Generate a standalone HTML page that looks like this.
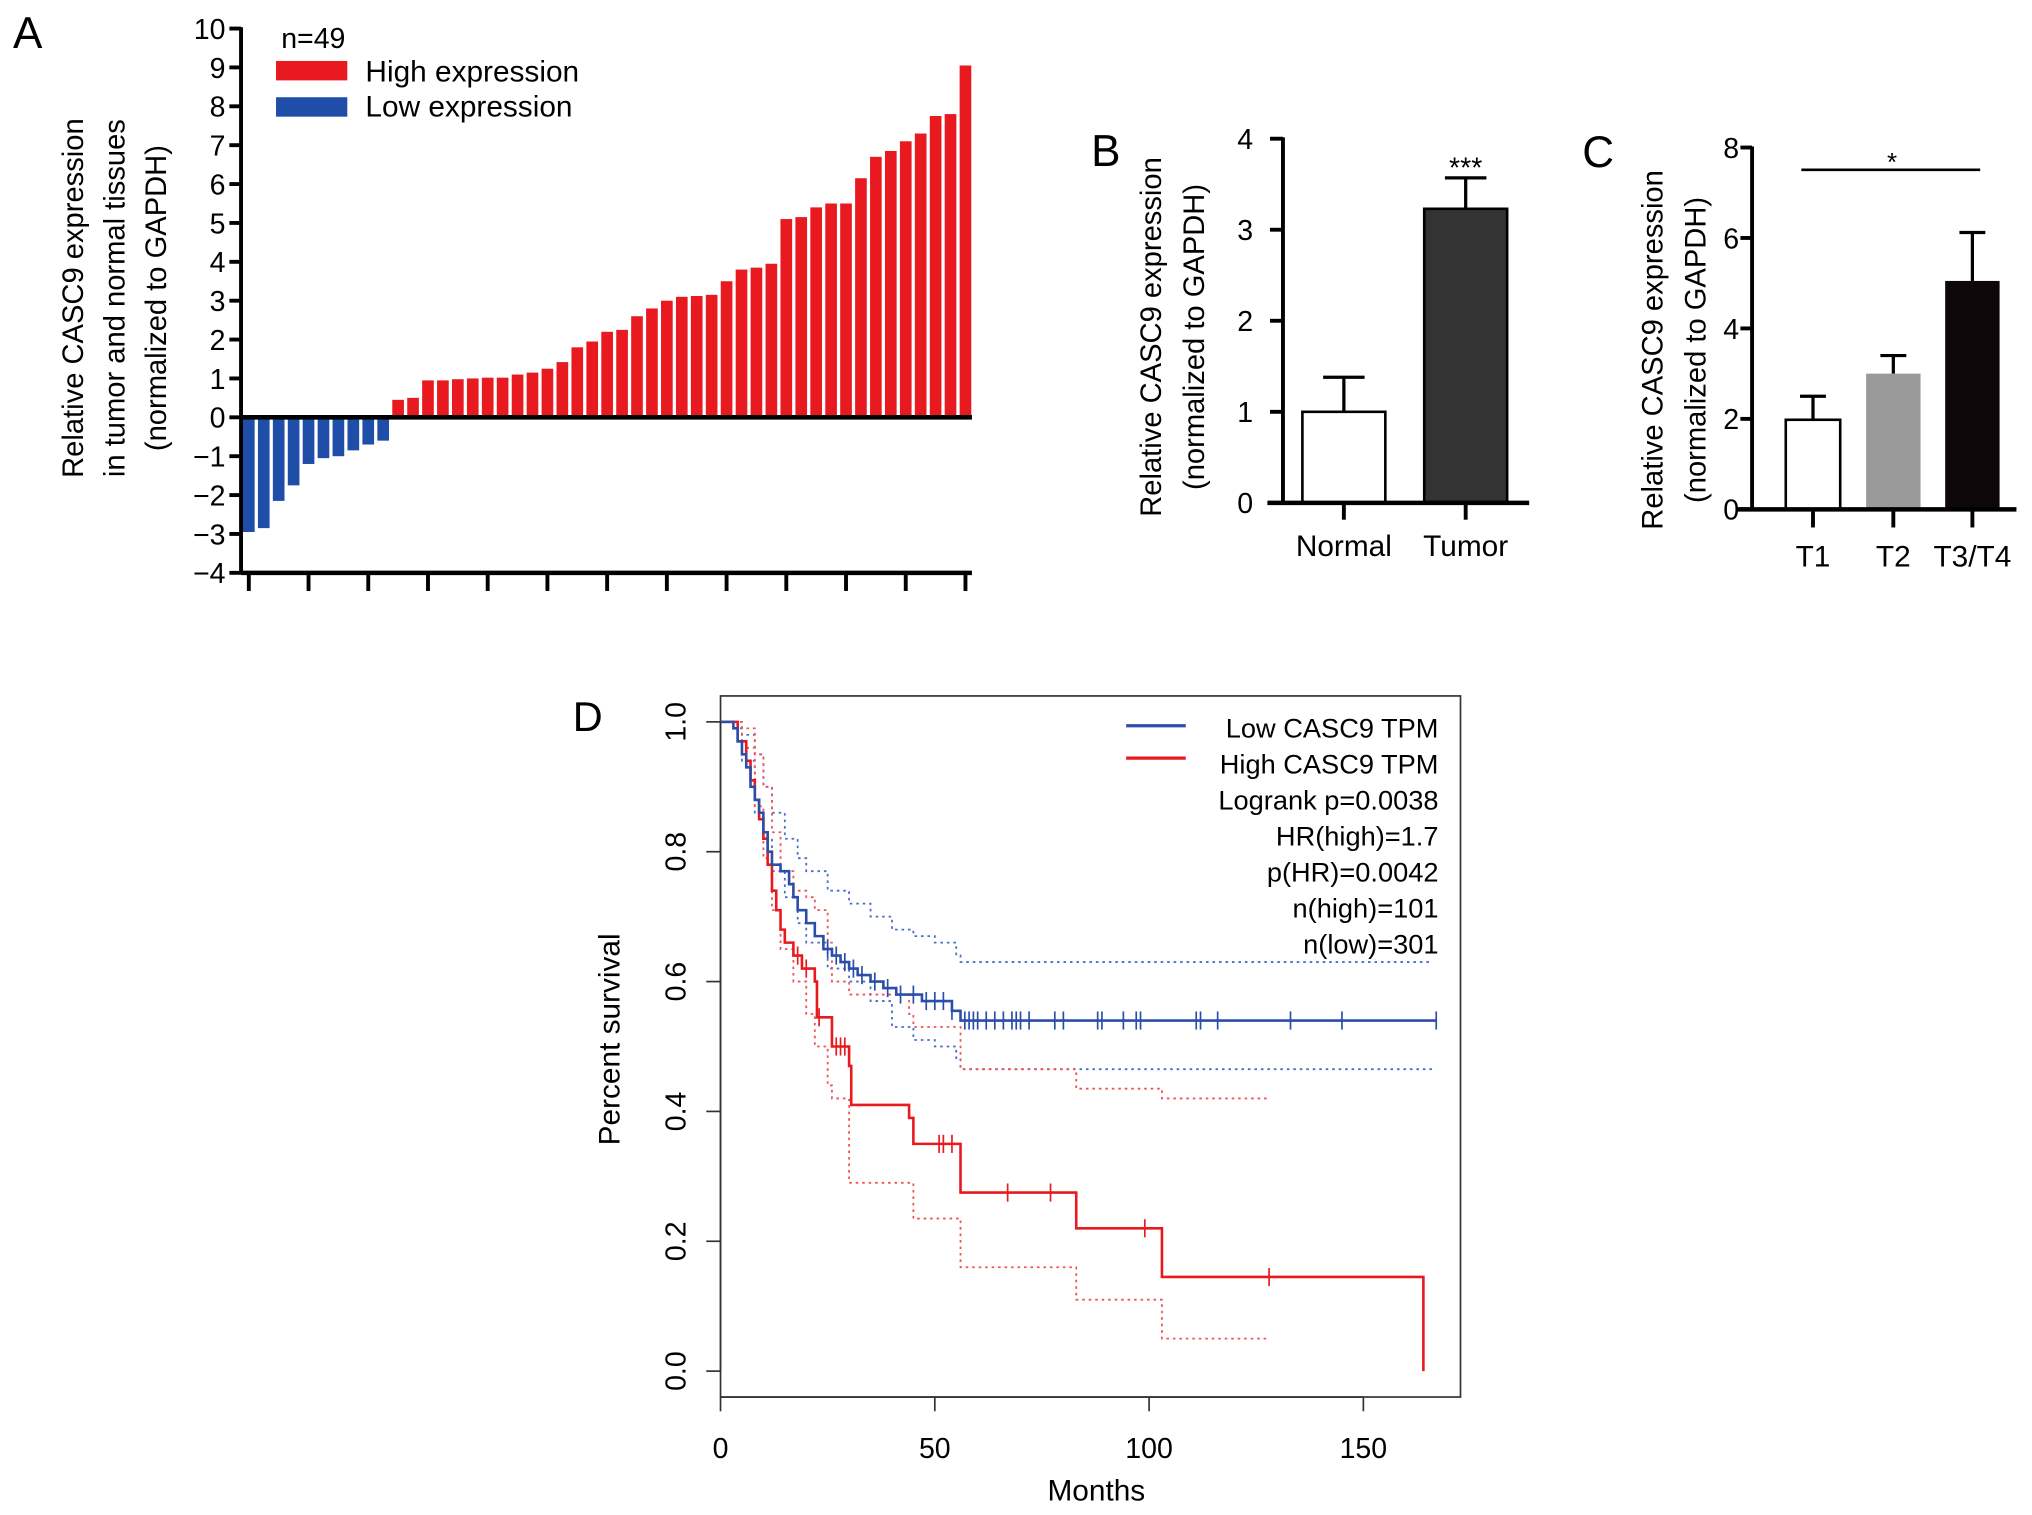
<!DOCTYPE html>
<html><head><meta charset="utf-8"><style>
html,body{margin:0;padding:0;background:#fff;}
svg{display:block;font-family:"Liberation Sans",Arial,sans-serif;}
</style></head><body>
<svg id="fig" width="2032" height="1515" viewBox="0 0 1568 1169" xmlns="http://www.w3.org/2000/svg">
<g id="pA"></g>
<g id="pB"></g>
<g id="pC"></g>
<g id="pD"></g>
</svg>
<script>
// Panel A data
const aValues = [-2.95,-2.85,-2.15,-1.75,-1.2,-1.05,-1.0,-0.85,-0.7,-0.6,
 0.45,0.5,0.95,0.95,0.98,1.0,1.02,1.02,1.1,1.15,1.25,1.42,1.8,1.95,2.2,2.25,2.6,2.8,3.0,3.1,3.12,3.15,3.5,3.8,3.85,3.95,5.1,5.15,5.4,5.5,5.5,6.15,6.7,6.85,7.1,7.3,7.75,7.8,9.05];
const aTicks = [10,9,8,7,6,5,4,3,2,1,0,-1,-2,-3,-4];
// Panel B data
const bCats = ["Normal","Tumor"];
const bMeans = [1.0,3.23];
const bErr = [0.38,0.34];
const bTicks = [0,1,2,3,4];
// Panel C data
const cCats = ["T1","T2","T3/T4"];
const cMeans = [1.98,3.0,5.05];
const cErr = [0.52,0.4,1.07];
const cTicks = [0,2,4,6,8];
// Panel D data
const lowT = [0,3,4,5,6,7,8,9,10,11,12,14,16,17,18,20,22,24,26,28,30,32,35,38,41,47,54,56];
const lowS = [1,0.99,0.97,0.95,0.93,0.9,0.88,0.86,0.83,0.8,0.78,0.77,0.75,0.73,0.71,0.69,0.67,0.65,0.64,0.63,0.62,0.61,0.6,0.59,0.58,0.57,0.555,0.54];
const lowEnd = 167;
const lowCens = [25,27,29,31,33,36,39,42,45,48,50,52,54,57,58,59,60,62,64,66,68,69,70,72,78,80,88,89,94,97,98,111,112,116,133,145,167];
const highT = [0,4,6,7,8,9,10,11,12,13,14,15,17,19,22,22.5,26,30,30.5,44,45,56,83,103,164];
const highS = [1,0.97,0.94,0.91,0.88,0.85,0.82,0.78,0.74,0.71,0.68,0.66,0.64,0.62,0.6,0.545,0.5,0.47,0.41,0.39,0.35,0.275,0.22,0.145,0.0];
const highEnd = 164;
const highCens = [18,20,23,27,28,29,51,52,54,67,77,99,128];
const lowUpT = [0,3,5,8,10,12,15,18,20,25,30,35,40,45,50,55,56];
const lowUpS = [1,1,0.98,0.95,0.9,0.86,0.82,0.79,0.77,0.74,0.72,0.7,0.68,0.67,0.66,0.64,0.63];
const lowCIEnd = 166;
const lowLoT = [0,3,5,8,10,12,15,18,20,25,30,35,40,45,50,55,56];
const lowLoS = [1,0.99,0.94,0.86,0.82,0.77,0.73,0.69,0.66,0.62,0.6,0.57,0.53,0.51,0.5,0.48,0.465];
const hiUpT = [0,5,8,10,12,14,17,20,22,25,26,30,44,45,56,83,103];
const hiUpS = [1,0.99,0.95,0.9,0.83,0.77,0.74,0.73,0.71,0.66,0.6,0.58,0.55,0.53,0.465,0.435,0.42];
const hiCIEnd = 128;
const hiLoT = [0,5,8,10,12,14,17,20,22,25,26,30,44,45,56,83,103];
const hiLoS = [1,0.96,0.87,0.79,0.71,0.65,0.6,0.55,0.5,0.44,0.42,0.29,0.29,0.235,0.16,0.11,0.05];
const dYTicks = [0,0.2,0.4,0.6,0.8,1.0];
const dXTicks = [0,50,100,150];
const legendLines = ["Logrank p=0.0038","HR(high)=1.7","p(HR)=0.0042","n(high)=101","n(low)=301"];

const NS="http://www.w3.org/2000/svg";
function mk(parent,tag,attrs,text){const e=document.createElementNS(NS,tag);for(const k in attrs)e.setAttribute(k,attrs[k]);if(text!==undefined)e.textContent=text;parent.appendChild(e);return e;}

// ---------- Panel A ----------
(function(){
 const g=document.getElementById('pA');
 const y=v=>322-v*30; const x0=192, pitch=(745-192)/48;
 let t=mk(g,'text',{x:10,y:37,'font-size':34});t.textContent='A';
 
 const lab=["Relative CASC9 expression","in tumor and normal tissues","(normalized to GAPDH)"];
 lab.forEach((s,i)=>{const e=mk(g,'text',{x:0,y:0,'font-size':22.5,'text-anchor':'middle',transform:`translate(${64+i*32},230) rotate(-90)`},s);
  });
 aValues.forEach((v,i)=>{const cx=x0+i*pitch;const r=mk(g,'rect',{x:cx-4.5,width:9,y:Math.min(y(v),y(0)),height:Math.abs(y(v)-y(0)),fill:v<0?'#1f4ea8':'#e8191f'});
  });
 mk(g,'line',{x1:186,x2:186,y1:21,y2:443,stroke:'#000','stroke-width':3});
 mk(g,'line',{x1:186,x2:750,y1:y(0),y2:y(0),stroke:'#000','stroke-width':3.5});
 mk(g,'line',{x1:186,x2:750,y1:442,y2:442,stroke:'#000','stroke-width':3.5});
 aTicks.forEach(v=>{mk(g,'line',{x1:177,x2:186,y1:y(v),y2:y(v),stroke:'#000','stroke-width':3});
  const e=mk(g,'text',{x:174,y:y(v)+8,'font-size':22,'text-anchor':'end'},String(v).replace('-','\u2212'));
  });
 for(let i=0;i<=12;i++){const cx=x0+i*4*pitch;mk(g,'line',{x1:cx,x2:cx,y1:442,y2:456,stroke:'#000','stroke-width':3});}
 t=mk(g,'text',{x:217,y:37,'font-size':22},'n=49');
 mk(g,'rect',{x:213,y:47,width:55,height:15,fill:'#e8191f'});
 mk(g,'rect',{x:213,y:75,width:55,height:15,fill:'#1f4ea8'});
 t=mk(g,'text',{x:282,y:63,'font-size':23},'High expression');
 t=mk(g,'text',{x:282,y:90,'font-size':23},'Low expression');
})();

// ---------- Panel B ----------
(function(){
 const g=document.getElementById('pB');
 const y=v=>388-v*70.25; const xs=[1037,1131]; const w=64; const fills=['#fff','#333'];
 let t=mk(g,'text',{x:842,y:128,'font-size':34},'B');
 ["Relative CASC9 expression","(normalized to GAPDH)"].forEach((s,i)=>{const e=mk(g,'text',{x:0,y:0,'font-size':22.5,'text-anchor':'middle',transform:`translate(${896+i*33},260) rotate(-90)`},s);
  });
 bMeans.forEach((m,i)=>{const cx=xs[i];
  mk(g,'line',{x1:cx,x2:cx,y1:y(m),y2:y(m+bErr[i]),stroke:'#000','stroke-width':2.5});
  mk(g,'line',{x1:cx-16,x2:cx+16,y1:y(m+bErr[i]),y2:y(m+bErr[i]),stroke:'#000','stroke-width':2.5});
  const r=mk(g,'rect',{x:cx-w/2,y:y(m),width:w,height:y(0)-y(m),fill:fills[i],stroke:'#000','stroke-width':2});
  
  mk(g,'line',{x1:cx,x2:cx,y1:388,y2:401,stroke:'#000','stroke-width':3});
  const e=mk(g,'text',{x:cx,y:429,'font-size':23,'text-anchor':'middle'},bCats[i]);});
 mk(g,'line',{x1:990,x2:990,y1:106,y2:389,stroke:'#000','stroke-width':3});
 mk(g,'line',{x1:978,x2:1180,y1:388,y2:388,stroke:'#000','stroke-width':3.5});
 bTicks.forEach(v=>{mk(g,'line',{x1:980,x2:990,y1:y(v),y2:y(v),stroke:'#000','stroke-width':3});
  const e=mk(g,'text',{x:967,y:y(v)+8,'font-size':22,'text-anchor':'end'},String(v));});
 t=mk(g,'text',{x:1131,y:137,'font-size':22,'text-anchor':'middle'},'***');
})();

// ---------- Panel C ----------
(function(){
 const g=document.getElementById('pC');
 const y=v=>393-v*34.9; const xs=[1399,1461,1522]; const w=42; const fills=['#fff','#999','#0d0709'];
 let t=mk(g,'text',{x:1221,y:129,'font-size':34},'C');
 ["Relative CASC9 expression","(normalized to GAPDH)"].forEach((s,i)=>{const e=mk(g,'text',{x:0,y:0,'font-size':22.5,'text-anchor':'middle',transform:`translate(${1283+i*33},270) rotate(-90)`},s);
  });
 cMeans.forEach((m,i)=>{const cx=xs[i];
  mk(g,'line',{x1:cx,x2:cx,y1:y(m),y2:y(m+cErr[i]),stroke:'#000','stroke-width':2.5});
  mk(g,'line',{x1:cx-10,x2:cx+10,y1:y(m+cErr[i]),y2:y(m+cErr[i]),stroke:'#000','stroke-width':2.5});
  const r=mk(g,'rect',{x:cx-w/2,y:y(m),width:w,height:y(0)-y(m),fill:fills[i],stroke:i==0?'#000':'none','stroke-width':2});
  
  mk(g,'line',{x1:cx,x2:cx,y1:393,y2:407,stroke:'#000','stroke-width':3});
  const e=mk(g,'text',{x:cx,y:437,'font-size':23,'text-anchor':'middle'},cCats[i]);});
 mk(g,'line',{x1:1352,x2:1352,y1:113,y2:394,stroke:'#000','stroke-width':3});
 mk(g,'line',{x1:1340,x2:1556,y1:393,y2:393,stroke:'#000','stroke-width':3.5});
 cTicks.forEach(v=>{mk(g,'line',{x1:1343,x2:1352,y1:y(v),y2:y(v),stroke:'#000','stroke-width':3});
  const e=mk(g,'text',{x:1342,y:y(v)+8,'font-size':22,'text-anchor':'end'},String(v));});
 mk(g,'line',{x1:1390,x2:1528,y1:131,y2:131,stroke:'#000','stroke-width':2});
 t=mk(g,'text',{x:1460,y:132,'font-size':20,'text-anchor':'middle'},'*');
})();

// ---------- Panel D ----------
(function(){
 const g=document.getElementById('pD');
 const X=m=>556+m*3.307; const Y=s=>1058-s*501;
 function stepPath(T,S,end){let d=`M${X(T[0])},${Y(S[0])}`;for(let i=1;i<T.length;i++){d+=`H${X(T[i])}V${Y(S[i])}`;}d+=`H${X(end)}`;return d;}
 function surv(T,S,t){let s=S[0];for(let i=0;i<T.length;i++){if(T[i]<=t)s=S[i];}return s;}
 let t=mk(g,'text',{x:442,y:564,'font-size':32},'D');
 mk(g,'rect',{x:556,y:537,width:571,height:541,fill:'none',stroke:'#333','stroke-width':1.3});
 [[lowUpT,lowUpS,lowCIEnd,'#4a6fc8','ci-low-upper'],[lowLoT,lowLoS,lowCIEnd,'#4a6fc8','ci-low-lower'],[hiUpT,hiUpS,hiCIEnd,'#f05555','ci-high-upper'],[hiLoT,hiLoS,hiCIEnd,'#f05555','ci-high-lower']].forEach(a=>{
  const p=mk(g,'path',{d:stepPath(a[0],a[1],a[2]),fill:'none',stroke:a[3],'stroke-width':1.4,'stroke-dasharray':'2,3'});
  });
 let p=mk(g,'path',{d:stepPath(highT,highS,highEnd),fill:'none',stroke:'#e8191f','stroke-width':2});
 
 p=mk(g,'path',{d:stepPath(lowT,lowS,lowEnd),fill:'none',stroke:'#2b4fa8','stroke-width':2});
 
 lowCens.forEach(c=>{const yy=Y(surv(lowT,lowS,c));mk(g,'line',{x1:X(c),x2:X(c),y1:yy-7,y2:yy+7,stroke:'#2b4fa8','stroke-width':1.3});});
 highCens.forEach(c=>{const yy=Y(surv(highT,highS,c));mk(g,'line',{x1:X(c),x2:X(c),y1:yy-7,y2:yy+7,stroke:'#e8191f','stroke-width':1.3});});
 mk(g,'line',{x1:X(0),x2:X(150),y1:1078,y2:1078,stroke:'#333','stroke-width':1.3});
 dXTicks.forEach(v=>{mk(g,'line',{x1:X(v),x2:X(v),y1:1078,y2:1089,stroke:'#333','stroke-width':1.3});
  const e=mk(g,'text',{x:X(v),y:1125,'font-size':22,'text-anchor':'middle'},String(v));});
 mk(g,'line',{x1:556,x2:556,y1:Y(0),y2:Y(1),stroke:'#333','stroke-width':1.3});
 dYTicks.forEach(v=>{mk(g,'line',{x1:545,x2:556,y1:Y(v),y2:Y(v),stroke:'#333','stroke-width':1.3});
  const e=mk(g,'text',{x:0,y:0,'font-size':22,'text-anchor':'middle',transform:`translate(529,${Y(v)}) rotate(-90)`},v.toFixed(1));});
 t=mk(g,'text',{x:846,y:1158,'font-size':23,'text-anchor':'middle'},'Months');
 t=mk(g,'text',{x:0,y:0,'font-size':23,'text-anchor':'middle',transform:'translate(478,802) rotate(-90)'},'Percent survival');
 mk(g,'line',{x1:869,x2:915,y1:560,y2:560,stroke:'#2b4fa8','stroke-width':2.5});
 mk(g,'line',{x1:869,x2:915,y1:585,y2:585,stroke:'#e8191f','stroke-width':2.5});
 const L=["Low CASC9 TPM","High CASC9 TPM"].concat(legendLines);
 L.forEach((s,i)=>{const e=mk(g,'text',{x:1110,y:569+i*27.8,'font-size':21,'text-anchor':'end'},s);
  });
})();
</script>
</body></html>
